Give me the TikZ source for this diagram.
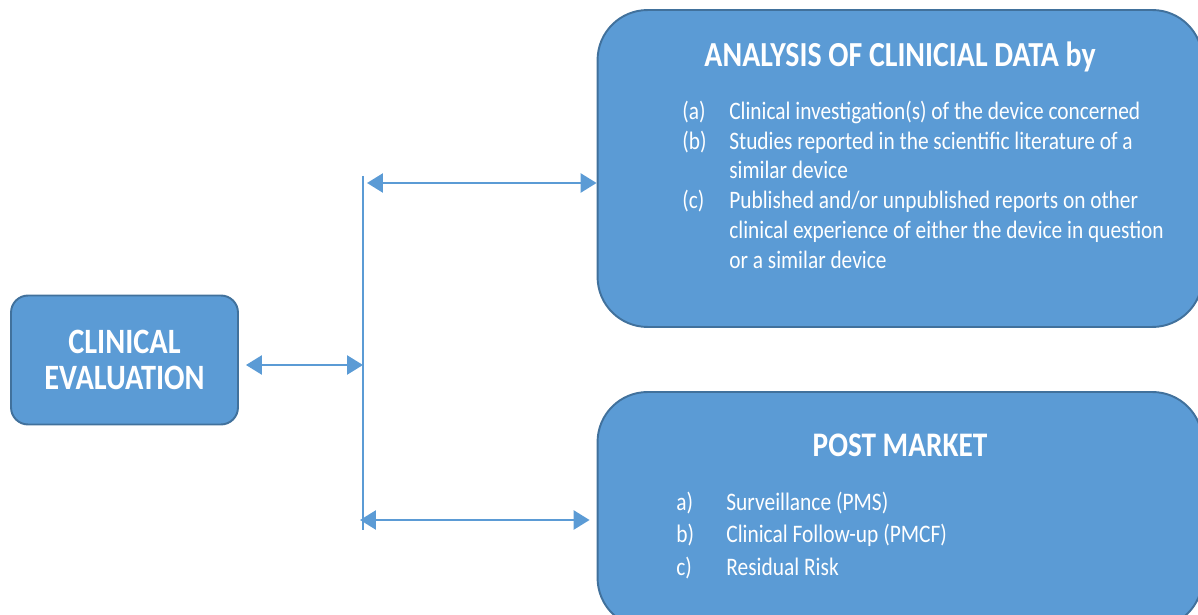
\documentclass[tikz,border=0pt]{standalone}
\usepackage{fontspec}
\setmainfont{Carlito}[FakeStretch=0.85]
\usetikzlibrary{arrows.meta,positioning,calc}
\definecolor{boxblue}{HTML}{5B9BD5}
\definecolor{boxline}{HTML}{41719C}

\begin{document}
\begin{tikzpicture}[x=0.02cm, y=-0.02cm,
    box/.style={rectangle, draw=boxline, line width=1.1pt, fill=boxblue, rounded corners=1cm},
    arrow/.style={draw=boxblue, line width=1.5pt, <->, >={Triangle[length=0.32cm,width=0.38cm]}},
    txt/.style={text=white, inner sep=0pt, align=left}
]
\useasboundingbox (0,0) rectangle (1198,615);

% boxes
\node[box, rounded corners=0.34cm, minimum width=4.54cm, minimum height=2.58cm,
      text=white, align=center, font=\bfseries\fontsize{20.3}{20.4}\selectfont] (clin) at (124.5,360) {CLINICAL\\EVALUATION};
\node[box, minimum width=12.1cm, minimum height=6.34cm] (data) at (900,168.5) {};
\node[box, minimum width=12.1cm, minimum height=4.72cm] (post) at (900,510) {};

% texts
\node[txt, anchor=base, font=\bfseries\fontsize{20}{22}\selectfont] (dataTitle) at (900,67) {ANALYSIS OF CLINICIAL DATA by};
\node[txt, anchor=north west, font=\fontsize{14.3}{17}\selectfont] (dataList) at (682,98) {%
\begin{tabular}{@{}p{0.94cm}@{}l@{}}
(a) & Clinical investigation(s) of the device concerned\\
(b) & Studies reported in the scientific literature of a\\
    & similar device\\
(c) & Published and/or unpublished reports on other\\
    & clinical experience of either the device in question\\
    & or a similar device
\end{tabular}};
\node[txt, anchor=base, font=\bfseries\fontsize{19.6}{22}\selectfont] (postTitle) at (900,456) {POST MARKET};
\node[txt, anchor=north west, font=\fontsize{14.35}{18.4}\selectfont] (postList) at (676,487.5) {%
\begin{tabular}{@{}p{1.0cm}@{}l@{}}
a) & Surveillance (PMS)\\
b) & Clinical Follow-up (PMCF)\\
c) & Residual Risk
\end{tabular}};

% connectors
\coordinate (busTop) at (363,176);
\coordinate (busBot) at (363,530);
\coordinate (topL) at (367,183);
\coordinate (midR) at (363,365);
\coordinate (botL) at (360,520);
\draw[boxblue, line width=1pt] (busTop) -- (busBot);
\draw[arrow] (topL) -- (topL -| data.west);
\draw[arrow, shorten <=0.14cm] (clin.east |- midR) -- (midR);
\draw[arrow, shorten >=0.14cm] (botL) -- (botL -| post.west);
\end{tikzpicture}
\end{document}
